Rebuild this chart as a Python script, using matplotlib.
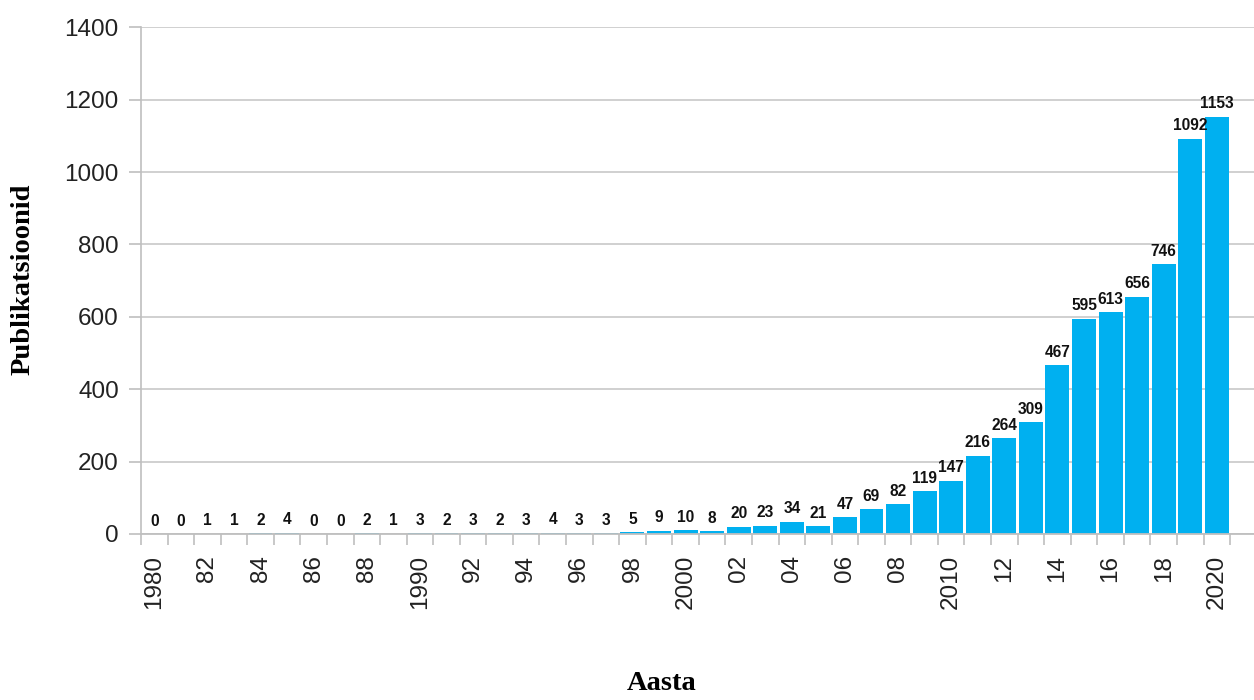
import matplotlib
matplotlib.use("Agg")
import matplotlib.pyplot as plt
import numpy as np

years = list(range(1980, 2021))
publications = [0, 0, 1, 1, 2, 4, 0, 0, 2, 1, 3, 2, 3, 2, 3, 4, 3, 3, 5, 9,
                10, 8, 20, 23, 34, 21, 47, 69, 82, 119, 147, 216, 264, 309,
                467, 595, 613, 656, 746, 1092, 1153]
year_labels = ["1980", "82", "84", "86", "88", "1990", "92", "94", "96", "98",
               "2000", "02", "04", "06", "08", "2010", "12", "14", "16", "18",
               "2020"]
y_ticks = [0, 200, 400, 600, 800, 1000, 1200, 1400]

sans = ["Liberation Sans", "DejaVu Sans"]
serif = ["Liberation Serif", "DejaVu Serif"]
bar_color = "#00B0F0"
grid_color = "#d0d0d0"
axis_color = "#bfbfbf"

fig = plt.figure(figsize=(12.54, 7.0), dpi=100)
ax = fig.add_axes([141 / 1254, 1 - 534 / 700, (1254 - 141) / 1254, (534 - 27.3) / 700])

x = np.arange(len(years))
ax.bar(x, publications, width=0.9, color=bar_color, zorder=2)

for xi, v in zip(x, publications):
    ax.annotate(str(v), (xi, v), xytext=(0, 6), textcoords="offset points",
                ha="center", va="baseline", fontsize=11.2, fontweight="bold",
                family=sans, color="#111111", zorder=4)

ax.set_ylim(0, 1400)
ax.set_xlim(-0.5, 41.4)
ax.set_yticks(y_ticks)
ax.set_yticklabels([str(t) for t in y_ticks], family=sans, fontsize=17.5, color="#222222")
ax.yaxis.grid(True, color=grid_color, linewidth=1.4, zorder=0)
ax.set_axisbelow(True)

# boundary ticks between bars, labels centred under every second bar
ax.set_xticks(np.arange(-0.5, len(years), 1.0))
ax.set_xticklabels([])
label_pos = x[::2]
ax.set_xticks(label_pos, minor=True)
ax.set_xticklabels(year_labels, minor=True, rotation=90, family=sans,
                   fontsize=17.5, color="#222222")
ax.tick_params(axis="x", which="major", length=8, width=1.2, color=axis_color, direction="out")
ax.tick_params(axis="x", which="minor", length=0, pad=15)
ax.tick_params(axis="y", length=9, width=1.2, color=axis_color, pad=7)

for s in ["top", "right"]:
    ax.spines[s].set_visible(False)
ax.spines["left"].set_color(axis_color)
ax.spines["left"].set_linewidth(1.2)
ax.spines["bottom"].set_color(axis_color)
ax.spines["bottom"].set_linewidth(1.3)

fig.text(23 / 1254, 1 - 279 / 700, "Publikatsioonid", rotation=90, ha="center",
         va="center", family=serif, fontweight="bold", fontsize=20.5, color="black")
fig.text(662 / 1254, 1 - 683 / 700, "Aasta", ha="center", va="center",
         family=serif, fontweight="bold", fontsize=20.5, color="black")

fig.savefig("out.png", dpi=100, facecolor="white")
